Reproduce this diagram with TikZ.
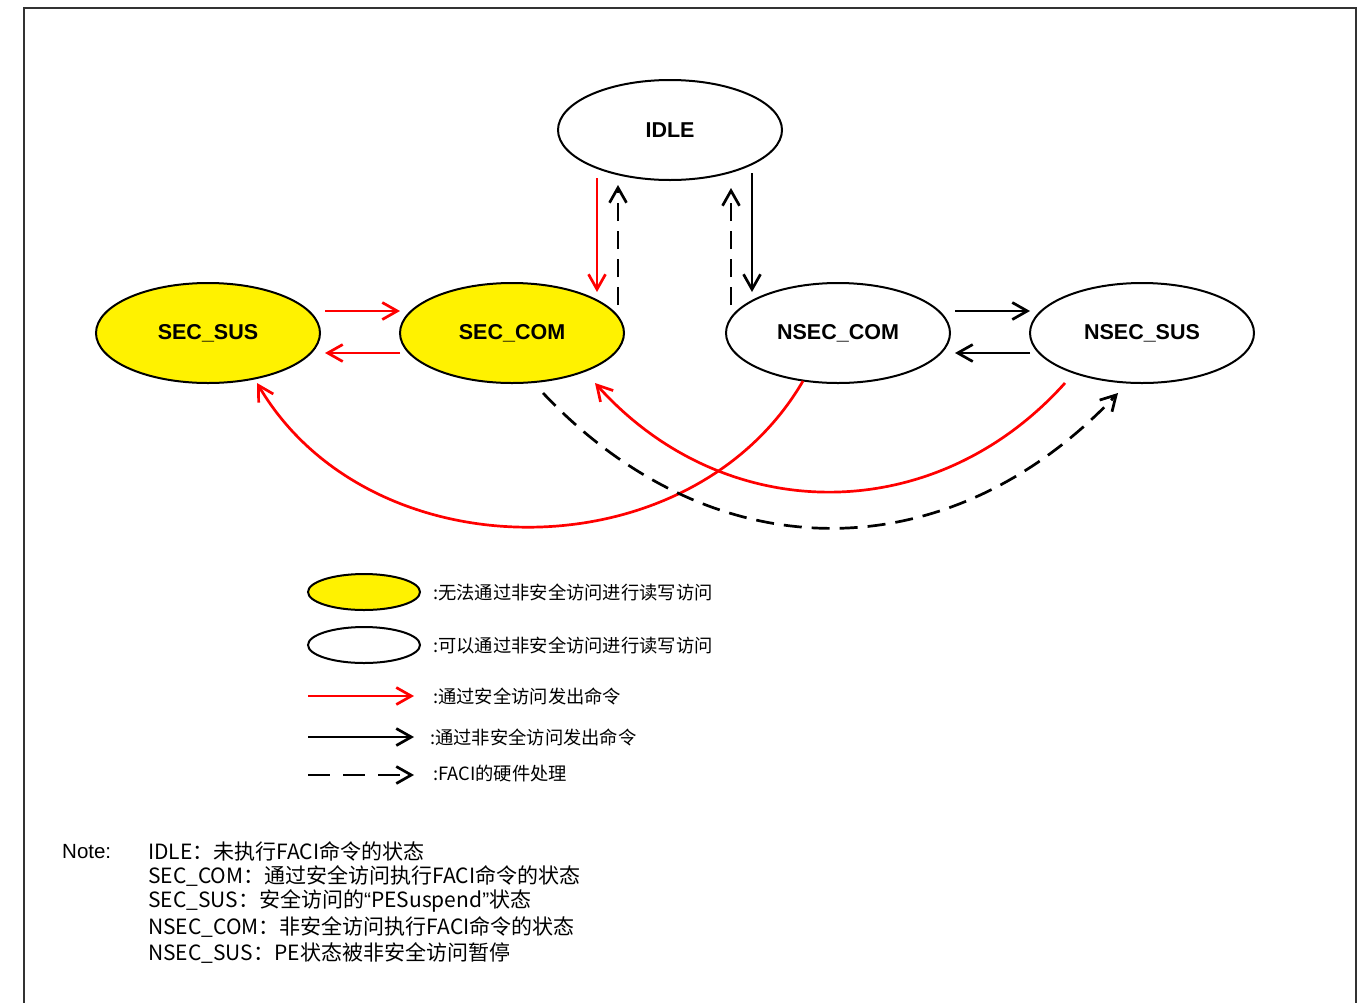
\documentclass[tikz,border=0pt]{standalone}
\usepackage{fontspec}
\setmainfont{Liberation Sans}
\newfontfamily\cjk{Noto Sans CJK SC}
\newfontfamily\arialfont{Liberation Sans}
\usetikzlibrary{arrows.meta,shapes.geometric,calc}
\begin{document}
\begin{tikzpicture}[x=1pt,y=-1pt,
  state/.style={ellipse,draw,line width=2pt,minimum width=224pt,minimum height=100pt,inner sep=0pt,
    font=\fontsize{21.5}{24}\selectfont\bfseries},
  secstate/.style={state,fill=yellow},
  legell/.style={ellipse,draw,line width=2pt,minimum width=112pt,minimum height=36pt,inner sep=0pt},
  conn/.style={line width=2.7pt,-{Straight Barb[length=15pt,width=17pt]}},
  redconn/.style={conn,red},
  blkconn/.style={conn,black},
  dashconn/.style={conn,black,dash pattern=on 18pt off 10pt},
  legtext/.style={anchor=west,inner sep=0pt,font=\cjk\fontsize{18.3}{22}\selectfont},
  notetext/.style={anchor=west,inner sep=0pt,font=\cjk\fontsize{21}{24}\selectfont}
]
\useasboundingbox (0,0) rectangle (1367,1002);
\clip (0,0) rectangle (1367,1002);
\draw[line width=1.6pt,draw={rgb,255:red,50;green,50;blue,50}] (24,8) rectangle (1356,1030);

% states
\node[state] (idle) at (670,130) {IDLE};
\node[secstate] (ssus) at (208,333) {SEC\_SUS};
\node[secstate] (scom) at (512,333) {SEC\_COM};
\node[state] (ncom) at (838,333) {NSEC\_COM};
\node[state] (nsus) at (1142,333) {NSEC\_SUS};

% vertical connectors
\draw[redconn] ($(idle.center)+(-73,48)$) -- ($(scom.center)+(85,-41)$);
\draw[dashconn] ($(scom.center)+(106,-28)$) -- ($(idle.center)+(-52,55)$);
\draw[dashconn] ($(ncom.center)+(-107,-28)$) -- ($(idle.center)+(61,58)$);
\draw[blkconn] ($(idle.center)+(82,43)$) -- ($(ncom.center)+(-86,-41)$);

% horizontal connectors
\draw[redconn] ($(ssus.center)+(117,-22)$) -- ($(scom.center)+(-112,-22)$);
\draw[redconn] ($(scom.center)+(-112,20)$) -- ($(ssus.center)+(117,20)$);
\draw[blkconn] ($(ncom.center)+(117,-22)$) -- ($(nsus.center)+(-112,-22)$);
\draw[blkconn] ($(nsus.center)+(-112,20)$) -- ($(ncom.center)+(117,20)$);

% curved connectors
\draw[redconn] ($(ncom.center)+(-35,48)$) .. controls (690,575) and (370,575) .. ($(ssus.center)+(49,50)$);
\draw[redconn] ($(nsus.center)+(-77,50)$) .. controls (935,528) and (725,528) .. ($(scom.center)+(83,50)$);
\draw[dashconn] ($(scom.center)+(31,60)$) .. controls (713,573) and (948,573) .. ($(nsus.center)+(-24,60)$);

% legend
\node[legell,fill=yellow] (lyel) at (364,592) {};
\node[legell] (lwht) at (364,645) {};
\node[legtext] (tyel) at (433,592) {:无法通过非安全访问进行读写访问};
\node[legtext] (twht) at (433,645) {:可以通过非安全访问进行读写访问};
\coordinate (lr1) at (308,696); \coordinate (lr2) at (414,696);
\coordinate (lb1) at (308,737); \coordinate (lb2) at (414,737);
\coordinate (ld1) at (308,775); \coordinate (ld2) at (414,775);
\draw[redconn] (lr1) -- (lr2);
\draw[blkconn] (lb1) -- (lb2);
\draw[dashconn,dash pattern=on 22pt off 13pt] (ld1) -- (ld2);
\node[legtext] (tred) at (433,696) {:通过安全访问发出命令};
\node[legtext] (tblk) at (430,737) {:通过非安全访问发出命令};
\node[legtext] (tdsh) at (433,774) {:FACI的硬件处理};

% note
\node[anchor=west,inner sep=0pt,font=\arialfont\fontsize{20.5}{24}\selectfont] (note) at (62,852) {Note:};
\node[notetext] (n1) at (148,851) {IDLE：未执行FACI命令的状态};
\node[notetext] (n2) at (148,876) {SEC\_COM：通过安全访问执行FACI命令的状态};
\node[notetext] (n3) at (148,901) {SEC\_SUS：安全访问的{\arialfont “}PESuspend{\arialfont ”}状态};
\node[notetext] (n4) at (148,927) {NSEC\_COM：非安全访问执行FACI命令的状态};
\node[notetext] (n5) at (148,953) {NSEC\_SUS：PE状态被非安全访问暂停};
\end{tikzpicture}
\end{document}
